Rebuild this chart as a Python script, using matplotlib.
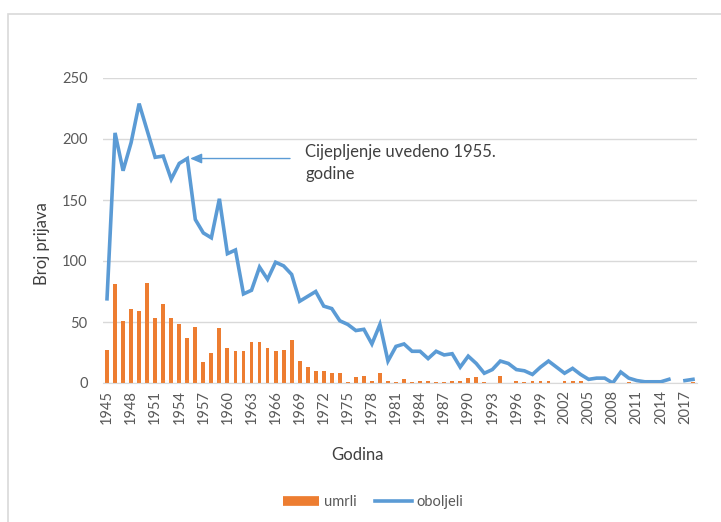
import matplotlib
matplotlib.use('Agg')
import matplotlib.pyplot as plt
from matplotlib.lines import Line2D
from matplotlib.patches import Rectangle
import numpy as np

years = list(range(1945, 2019))

# oboljeli (cases); 2016 has no value
oboljeli = [69, 205, 174, 197, 229, 207, 185, 186, 167, 180,
            184, 134, 123, 119, 151, 106, 109, 73, 76, 95,
            85, 99, 96, 89, 67, 71, 75, 63, 61, 51,
            48, 43, 44, 32, 48, 18, 30, 32, 26, 26,
            20, 26, 23, 24, 13, 22, 16, 8, 11, 18,
            16, 11, 10, 7, 13, 18, 13, 8, 12, 7,
            3, 4, 4, 0, 9, 4, 2, 1, 1, 1,
            3, np.nan, 2, 3]

# umrli (deaths)
umrli = [27, 81, 51, 61, 59, 82, 53, 65, 53, 48,
         37, 46, 17, 25, 45, 29, 26, 26, 34, 34,
         29, 26, 27, 35, 18, 13, 10, 10, 8, 8,
         1, 5, 6, 2, 8, 2, 1, 3, 1, 2,
         2, 1, 1, 2, 2, 4, 5, 1, 0, 6,
         0, 2, 1, 2, 2, 2, 0, 2, 2, 2,
         0, 0, 0, 0, 0, 1, 0, 0, 0, 0,
         0, 0, 0, 1]

tick_years = years[::3]
y_ticks = [0, 50, 100, 150, 200, 250]

blue = '#5B9BD5'
orange = '#ED7D31'
grey_text = '#595959'
font = ['Lato', 'DejaVu Sans']
plt.rcParams['font.family'] = font

W, H = 721, 522
fig = plt.figure(figsize=(W / 100, H / 100), dpi=100)

# chart area border
fig.patches.append(Rectangle((8 / W, -0.1), 1.2, (H - 14) / H + 0.1,
                             transform=fig.transFigure, fill=False,
                             edgecolor='#D9D9D9', lw=1.2))

ax = fig.add_axes([103 / W, (H - 383) / H, (697 - 103) / W, (383 - 78) / H])

x = np.arange(len(years))
ax.bar(x, umrli, width=0.48, color=orange, zorder=2)
ax.plot(x, oboljeli, color=blue, lw=2.6, zorder=3, solid_joinstyle='miter')

ax.set_xlim(-0.5, len(years) - 0.5)
ax.set_ylim(0, 250)
ax.set_yticks(y_ticks)
ax.set_xticks([years.index(y) for y in tick_years])
ax.set_xticklabels([str(y) for y in tick_years], rotation=90)
ax.tick_params(axis='y', length=0, pad=11, labelsize=10.5, labelcolor=grey_text)
ax.tick_params(axis='x', length=0, pad=5, labelsize=10.5, labelcolor=grey_text)
ax.grid(axis='y', color='#D9D9D9', lw=1, zorder=0)
for side in ['top', 'right', 'left']:
    ax.spines[side].set_visible(False)
ax.spines['bottom'].set_color('#D9D9D9')

# annotation arrow pointing at 1955
i55 = years.index(1955)
ax.annotate('', xy=(i55 + 0.35, oboljeli[i55]), xytext=(i55 + 12.8, oboljeli[i55]),
            arrowprops=dict(arrowstyle='-|>,head_length=0.7,head_width=0.3',
                            color=blue, lw=1, shrinkA=0, shrinkB=0))
fig.text(305 / W, 1 - 163 / H, 'Cijepljenje uvedeno 1955.\ngodine', fontsize=12,
         color='#404040', va='center', ha='left', linespacing=1.45)

fig.text(42 / W, 1 - 244 / H, 'Broj prijava', rotation=90, fontsize=12,
         color='#404040', ha='center', va='center')
fig.text(357 / W, 1 - 455 / H, 'Godina', fontsize=12, color='#404040',
         ha='center', va='center')

handles = [Line2D([], [], color=orange, lw=7, solid_capstyle='butt'),
           Line2D([], [], color=blue, lw=2.6)]
fig.legend(handles, ['umrli', 'oboljeli'], loc='center', ncol=2,
           bbox_to_anchor=(373 / W, 1 - 502 / H), frameon=False,
           fontsize=10.5, labelcolor=grey_text, handlelength=2.5,
           handletextpad=0.3, columnspacing=1.3)

fig.savefig('out.png', dpi=100)
